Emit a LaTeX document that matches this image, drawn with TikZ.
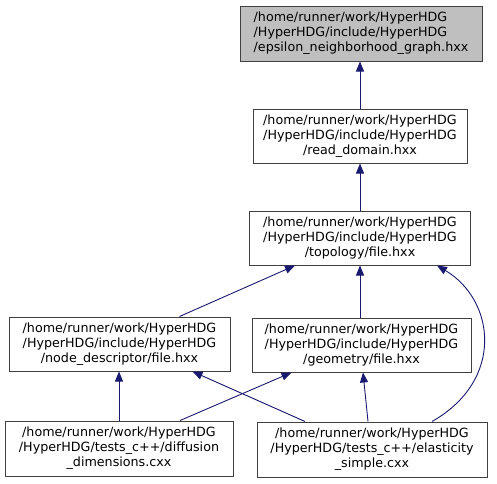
\documentclass[tikz,border=0pt]{standalone}
\usepackage{fontspec}
\setmainfont{DejaVu Sans}
\usetikzlibrary{arrows.meta}
\definecolor{edgeblue}{HTML}{191970}
\definecolor{boxgray}{HTML}{BFBFBF}
\definecolor{boxline}{HTML}{404040}
\begin{document}
\begin{tikzpicture}[x=1pt,y=-1pt,
  filebox/.style={draw=boxline,line width=1pt,fill=white,align=center,inner sep=0pt,
    font=\fontsize{12.7}{15}\selectfont},
  dep/.style={draw=edgeblue,line width=0.9pt,-{Triangle[length=10pt,width=8pt]}}]
\useasboundingbox (0,0) rectangle (497,483);
\node[filebox,fill=boxgray,align=left,minimum width=242pt,minimum height=55pt] (eps) at (361,33.5)
  {/home/runner/work/HyperHDG\\/HyperHDG/include/HyperHDG\\/epsilon\_neighborhood\_graph.hxx};
\node[filebox,minimum width=214pt,minimum height=54pt] (read) at (360,136)
  {/home/runner/work/HyperHDG\\/HyperHDG/include/HyperHDG\\/read\_domain.hxx};
\node[filebox,minimum width=221pt,minimum height=54pt] (topo) at (360,238)
  {/home/runner/work/HyperHDG\\/HyperHDG/include/HyperHDG\\/topology/file.hxx};
\node[filebox,minimum width=221pt,minimum height=54pt] (nd) at (119.5,344)
  {/home/runner/work/HyperHDG\\/HyperHDG/include/HyperHDG\\/node\_descriptor/file.hxx};
\node[filebox,minimum width=219pt,minimum height=54pt] (geo) at (361.5,345)
  {/home/runner/work/HyperHDG\\/HyperHDG/include/HyperHDG\\/geometry/file.hxx};
\node[filebox,minimum width=228pt,minimum height=55pt] (diff) at (119,448.5)
  {/home/runner/work/HyperHDG\\/HyperHDG/tests\_c++/diffusion\\\_dimensions.cxx};
\node[filebox,minimum width=230pt,minimum height=55pt] (elas) at (372,449.5)
  {/home/runner/work/HyperHDG\\/HyperHDG/tests\_c++/elasticity\\\_simple.cxx};
\draw[dep] (read.north) -- (read.north |- eps.south);
\draw[dep] (topo.north) -- (read.south);
\draw[dep] ([xshift=60pt]nd.north) -- ([xshift=-65pt]topo.south);
\draw[dep] (geo.north -| topo.south) -- (topo.south);
\draw[dep] ([xshift=60pt]elas.north) .. controls (505,380) and (495,300) .. ([xshift=77pt]topo.south);
\draw[dep] (diff.north) -- (diff.north |- nd.south);
\draw[dep] ([xshift=-67pt]elas.north) -- ([xshift=73pt]nd.south);
\draw[dep] ([xshift=61pt]diff.north) -- ([xshift=-70pt]geo.south);
\draw[dep] ([xshift=-4pt]elas.north) -- ([xshift=1.5pt]geo.south);
\end{tikzpicture}
\end{document}
